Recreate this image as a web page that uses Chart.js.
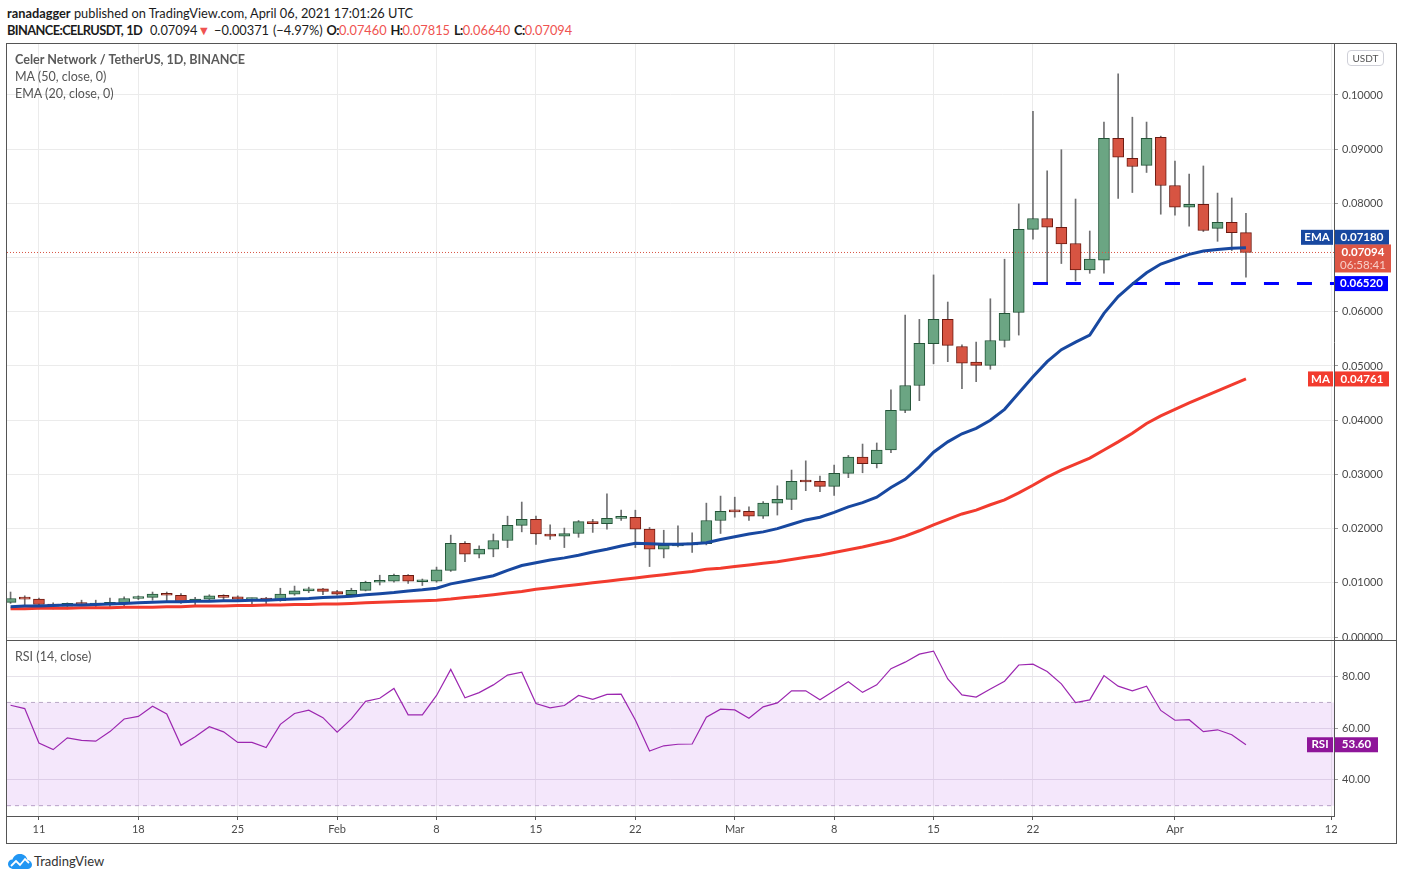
<!DOCTYPE html>
<html>
<head>
<meta charset="utf-8">
<title>CELRUSDT 1D</title>
<script src="https://cdn.jsdelivr.net/npm/chart.js@4.4.0/dist/chart.umd.min.js"></script>
<style>
  body { margin: 0; background: #fff; width: 1402px; height: 880px; overflow: hidden; position: relative;
         font-family: Lato, "Open Sans", sans-serif; }
  .hdr { position: absolute; left: 7px; font-size: 12.8px; color: #1b1b1b; white-space: nowrap; }
  .hdr .r { color: #ef5350; }
  .hdr.l2 b { letter-spacing: -0.6px; }
  .hdr.l2 { word-spacing: 0.6px; }
  #frame { position: absolute; left: 6px; top: 43px; width: 1389px; height: 799px; border: 1px solid #555; }
  #main { position: absolute; left: 0; top: 0; }
  #sep { position: absolute; left: 0; top: 596px; width: 1389px; height: 1px; background: #555; }
  #rsi { position: absolute; left: 0; top: 597px; }
  .leg { position: absolute; left: 15px; font-size: 12.5px; color: #555; white-space: nowrap; }
  #usdt { position: absolute; left: 1347px; top: 50px; width: 35px; height: 14px; border: 1px solid #cfd0d8;
          border-radius: 4px; font-size: 10px; color: #555; text-align: center; line-height: 14px; }
  #logo { position: absolute; left: 8px; top: 852px; }
  #brand { position: absolute; left: 34px; top: 853px; font-size: 13px; color: #333; }
</style>
</head>
<body>
<div class="hdr" style="top:5px"><b>ranadagger</b> published on TradingView.com, April 06, 2021 17:01:26 UTC</div>
<div class="hdr l2" style="top:22px"><b>BINANCE:CELRUSDT, 1D</b>&nbsp; 0.07094<span class="r">▼</span> −0.00371 (−4.97%) <b>O:</b><span class="r">0.07460</span> <b>H:</b><span class="r">0.07815</span> <b>L:</b><span class="r">0.06640</span> <b>C:</b><span class="r">0.07094</span></div>

<div id="frame">
  <canvas id="main" width="1389" height="596"></canvas>
  <div id="sep"></div>
  <canvas id="rsi" width="1389" height="202"></canvas>
</div>

<div class="leg" style="top:52px;font-size:12.6px;font-weight:700;color:#5a5a5a">Celer Network / TetherUS, 1D, BINANCE</div>
<div class="leg" style="top:69px">MA (50, close, 0)</div>
<div class="leg" style="top:86px">EMA (20, close, 0)</div>
<div class="leg" style="top:649px">RSI (14, close)</div>
<div id="usdt">USDT</div>

<svg id="logo" width="24" height="18" viewBox="0 0 24 18">
  <path d="M6 17 C2 17 0 14.5 0 12 C0 9.5 2 7.5 4.5 7.5 C5.5 4 8.5 2 12 2 C16 2 18.8 4.6 19.4 8 C22 8.3 24 10.3 24 12.7 C24 15.2 22 17 19.5 17 Z" fill="#2196f3"/>
  <polyline points="3,14 8,9 12,13 17,7 21,11" fill="none" stroke="#fff" stroke-width="1.8"/>
</svg>
<div id="brand">TradingView</div>

<script>
// daily candles, 2021-01-09 .. 2021-04-06 (index 0 = Jan 9)
const opens  = [0.0064,0.0072,0.0070,0.0060,0.0057,0.0062,0.0059,0.0060,0.0063,0.0071,
                0.0073,0.0080,0.0077,0.0066,0.0070,0.0076,0.0074,0.0069,0.0070,0.0067,
                0.0079,0.0085,0.0089,0.0084,0.0078,0.0086,0.0101,0.0103,0.0114,0.0102,
                0.0103,0.0123,0.0173,0.0153,0.0162,0.0178,0.0206,0.0217,0.0190,0.0186,
                0.0191,0.0213,0.0209,0.0219,0.0221,0.0199,0.0162,0.0168,0.0170,0.0172,
                0.0215,0.0233,0.0232,0.0223,0.0247,0.0254,0.0288,0.0287,0.0278,0.0302,
                0.0332,0.0320,0.0345,0.0418,0.0464,0.0541,0.0586,0.0536,0.0507,0.0501,
                0.0547,0.0599,0.0752,0.0772,0.0756,0.0726,0.0677,0.0695,0.0920,0.0883,
                0.0870,0.0922,0.0833,0.0793,0.0798,0.0754,0.0765,0.0746];
const highs  = [0.0083,0.0076,0.0072,0.0063,0.0063,0.0068,0.0068,0.0072,0.0074,0.0076,
                0.0083,0.0083,0.0080,0.0073,0.0078,0.0078,0.0076,0.0072,0.0073,0.0090,
                0.0094,0.0092,0.0090,0.0086,0.0090,0.0103,0.0114,0.0116,0.0115,0.0107,
                0.0129,0.0188,0.0176,0.0168,0.0190,0.0223,0.0249,0.0223,0.0207,0.0201,
                0.0215,0.0217,0.0264,0.0234,0.0234,0.0202,0.0197,0.0205,0.0192,0.0247,
                0.0260,0.0258,0.0240,0.0250,0.0279,0.0308,0.0325,0.0297,0.0317,0.0335,
                0.0356,0.0358,0.0456,0.0594,0.0586,0.0668,0.0618,0.0539,0.0544,0.0624,
                0.0697,0.0799,0.0970,0.0860,0.0899,0.0808,0.0749,0.0950,0.1039,0.0959,
                0.0950,0.0924,0.0878,0.0854,0.0869,0.0819,0.0810,0.07815];
const lows   = [0.0062,0.0059,0.0052,0.0052,0.0052,0.0058,0.0055,0.0056,0.0057,0.0069,
                0.0068,0.0067,0.0062,0.0058,0.0068,0.0068,0.0067,0.0061,0.0060,0.0066,
                0.0077,0.0082,0.0078,0.0077,0.0077,0.0085,0.0096,0.0101,0.0099,0.0095,
                0.0101,0.0121,0.0139,0.0146,0.0148,0.0165,0.0194,0.0171,0.0180,0.0165,
                0.0184,0.0193,0.0199,0.0215,0.0165,0.0130,0.0146,0.0166,0.0156,0.0170,
                0.0191,0.0221,0.0215,0.0219,0.0225,0.0235,0.0270,0.0268,0.0261,0.0294,
                0.0303,0.0312,0.0340,0.0414,0.0436,0.0504,0.0508,0.0458,0.0471,0.0494,
                0.0535,0.0557,0.0734,0.0651,0.0689,0.0657,0.0671,0.0671,0.0809,0.0820,
                0.0857,0.0780,0.0778,0.0758,0.0748,0.0730,0.0713,0.0664];
const closes = [0.0071,0.0070,0.0060,0.0057,0.0062,0.0060,0.0061,0.0064,0.0071,0.0073,
                0.0079,0.0077,0.0065,0.0070,0.0076,0.0073,0.0070,0.0070,0.0068,0.0079,
                0.0085,0.0089,0.0084,0.0079,0.0086,0.0101,0.0104,0.0114,0.0103,0.0104,
                0.0124,0.0173,0.0153,0.0162,0.0178,0.0206,0.0217,0.0190,0.0186,0.0191,
                0.0213,0.0209,0.0219,0.0221,0.0199,0.0162,0.0169,0.0170,0.0172,0.0215,
                0.0232,0.0231,0.0223,0.0247,0.0254,0.0287,0.0286,0.0278,0.0302,0.0332,
                0.0320,0.0345,0.0418,0.0464,0.0542,0.0586,0.0538,0.0505,0.0501,0.0547,
                0.0597,0.0752,0.0772,0.0756,0.0725,0.0677,0.0697,0.0920,0.0885,0.0868,
                0.0920,0.0833,0.0793,0.0798,0.0750,0.0765,0.0746,0.07094];

// indicator values
const ema20 = [0.0056,0.0057,0.0057,0.0058,0.0059,0.0059,0.0060,0.0061,0.0062,0.0063,
               0.0064,0.0065,0.0065,0.0066,0.0066,0.0067,0.0067,0.0068,0.0068,0.0069,
               0.0070,0.0071,0.0073,0.0074,0.0075,0.0078,0.0080,0.0082,0.0085,0.0087,
               0.0090,0.0098,0.0103,0.0108,0.0113,0.0123,0.0132,0.0137,0.0142,0.0146,
               0.0151,0.0157,0.0162,0.0168,0.0173,0.0172,0.0171,0.0171,0.0172,0.0174,
               0.0180,0.0185,0.0190,0.0194,0.0200,0.0208,0.0216,0.0221,0.0230,0.0240,
               0.0248,0.0258,0.0276,0.0291,0.0314,0.0341,0.0360,0.0375,0.0385,0.0400,
               0.0420,0.0450,0.0480,0.0508,0.0530,0.0544,0.0557,0.0597,0.0628,0.0651,
               0.0672,0.0688,0.0697,0.0706,0.0712,0.0715,0.0717,0.0718];
const ma50  = [0.0052,0.0052,0.0053,0.0053,0.0053,0.0054,0.0054,0.0054,0.0055,0.0055,
               0.0055,0.0056,0.0056,0.0057,0.0057,0.0057,0.0058,0.0058,0.0059,0.0059,
               0.0060,0.0060,0.0061,0.0061,0.0062,0.0063,0.0064,0.0065,0.0066,0.0067,
               0.0068,0.0070,0.0073,0.0075,0.0078,0.0081,0.0084,0.0088,0.0091,0.0094,
               0.0097,0.0100,0.0103,0.0106,0.0109,0.0112,0.0115,0.0118,0.0121,0.0125,
               0.0127,0.0130,0.0133,0.0136,0.0139,0.0143,0.0147,0.0151,0.0156,0.0161,
               0.0166,0.0172,0.0178,0.0186,0.0196,0.0207,0.0217,0.0227,0.0234,0.0244,
               0.0253,0.0266,0.0280,0.0295,0.0308,0.0319,0.0330,0.0345,0.0360,0.0376,
               0.0394,0.0408,0.0420,0.0432,0.0443,0.0454,0.0465,0.04761];
const rsi14 = [68.9,67.6,54.3,51.7,56.3,55.3,55.0,58.7,63.6,64.6,
               68.5,65.5,53.4,56.7,60.6,58.6,54.5,54.5,52.5,61.5,
               65.7,67.0,64.1,58.5,63.6,70.4,71.6,75.4,65.2,65.2,
               72.7,82.8,71.8,73.8,76.8,80.6,81.7,69.6,67.9,68.8,
               72.7,71.2,73.1,73.2,63.2,51.2,53.2,53.8,53.9,64.3,
               67.4,67.1,63.9,68.3,69.8,74.5,74.5,71.0,74.5,78.0,
               73.9,76.8,83.1,85.6,88.7,89.9,79.1,72.9,72.1,75.2,
               78.2,84.5,84.8,82.0,77.2,69.9,71.0,80.4,76.3,74.5,
               76.3,66.9,63.1,63.3,58.7,59.4,57.5,53.6];

const supportLevel = 0.0652;
const supportFrom = 72;           // Mar 22
const rsiBand = [70, 30];
const priceTicks = [0, 0.01, 0.02, 0.03, 0.04, 0.05, 0.06, 0.07, 0.08, 0.09, 0.10];
const rsiTicks = [40, 60, 80];
const dateTickIdx = [2, 9, 16, 23, 30, 37, 44, 51, 58, 65, 72, 82, 93];
const dateTickText = ['11', '18', '25', 'Feb', '8', '15', '22', 'Mar', '8', '15', '22', 'Apr', '12'];

const xMin = -0.25, xMax = 93.2;
const lastClose = closes[closes.length - 1];
const lastEma = ema20[ema20.length - 1];
const lastMa = ma50[ma50.length - 1];
const lastRsi = rsi14[rsi14.length - 1];

Chart.defaults.font.family = 'Lato, "Open Sans", sans-serif';
Chart.defaults.color = '#4a4a4a';

const up = closes.map((c, i) => c >= opens[i]);
const pts = arr => arr.map((v, i) => ({ x: i, y: v }));

// coloured labels sitting on the right price scale
function drawTag(ctx, x, y, w, h, bg, lines) {
  ctx.fillStyle = bg;
  ctx.fillRect(x, y, w, h);
  ctx.textAlign = 'center';
  ctx.textBaseline = 'middle';
  lines.forEach(l => {
    ctx.fillStyle = l.color || '#fff';
    ctx.font = (l.bold === false ? '' : 'bold ') + '11.5px Lato, "Open Sans", sans-serif';
    ctx.fillText(l.text, x + w / 2, y + l.dy);
  });
}

function axisTags(items) {
  return {
    id: 'axisTags',
    afterDraw(chart) {
      const ctx = chart.ctx, ys = chart.scales.y, ax = ys.left;
      ctx.save();
      items.forEach(t => {
        const py = ys.getPixelForValue(t.value) + (t.shift || 0);
        const h = t.sub ? 28 : 15;
        const top = t.sub ? py - 8 : py - 7.5;
        const lines = [{ text: t.value.toFixed(t.digits), dy: 7.5 }];
        if (t.sub) lines.push({ text: t.sub, dy: 21, bold: false, color: '#f8cfc8' });
        drawTag(ctx, ax + 1, top, t.w || 54, h, t.color, lines);
        if (t.name) drawTag(ctx, ax - t.nameW - 1, top, t.nameW, 15, t.color, [{ text: t.name, dy: 7.5 }]);
      });
      ctx.restore();
    }
  };
}

const xGrid = { color: '#ebebeb', offset: false };
const setDateTicks = s => { s.ticks = dateTickIdx.map(v => ({ value: v })); };

new Chart(document.getElementById('main'), {
  type: 'bar',
  data: {
    datasets: [
      { type: 'line', data: pts(ema20), borderColor: '#1848a0', borderWidth: 3, pointRadius: 0, order: 0 },
      { type: 'line', data: pts(ma50), borderColor: '#f23b2e', borderWidth: 3, pointRadius: 0, order: 0 },
      { type: 'line', data: [{ x: supportFrom, y: supportLevel }, { x: xMax, y: supportLevel }],
        borderColor: '#0000ff', borderWidth: 3, borderDash: [15, 18], pointRadius: 0, order: 1 },
      { type: 'line', data: [{ x: xMin, y: lastClose }, { x: xMax, y: lastClose }],
        borderColor: '#d75442', borderWidth: 1, borderDash: [1, 2], pointRadius: 0, order: 1 },
      { data: lows.map((l, i) => ({ x: i, y: [l, highs[i]] })), backgroundColor: '#6f6f71',
        barThickness: 1, grouped: false, order: 3 },
      { data: opens.map((o, i) => ({ x: i, y: [Math.min(o, closes[i]), Math.max(o, closes[i])] })),
        backgroundColor: up.map(u => u ? '#6ba583' : '#d75442'),
        borderColor: up.map(u => u ? '#225437' : '#6b1a11'),
        borderWidth: 1, borderSkipped: false, barThickness: 11, minBarLength: 2, grouped: false, order: 2 }
    ]
  },
  options: {
    responsive: false, animation: false, events: [],
    layout: { padding: 0 },
    plugins: { legend: { display: false }, tooltip: { enabled: false } },
    scales: {
      x: { type: 'linear', min: xMin, max: xMax, offset: false,
           grid: Object.assign({ drawTicks: false }, xGrid),
           ticks: { display: false }, border: { display: false },
           afterBuildTicks: setDateTicks, afterFit: s => { s.height = 0; } },
      y: { position: 'right', min: -0.00055, max: 0.1094,
           grid: { color: '#ebebeb', tickLength: 4, tickColor: '#9a9a9a' },
           border: { color: '#555' },
           ticks: { padding: 4, font: { size: 11 }, callback: v => v.toFixed(5) },
           afterBuildTicks: s => { s.ticks = priceTicks.map(v => ({ value: v })); },
           afterFit: s => { s.width = 62; s.paddingTop = 0; s.paddingBottom = 0; } }
    }
  },
  plugins: [axisTags([
    { value: lastEma, digits: 5, color: '#1848a0', name: 'EMA', nameW: 32, shift: -10.5 },
    { value: lastClose, digits: 5, color: '#dd5645', sub: '06:58:41', w: 56 },
    { value: supportLevel, digits: 5, color: '#0000ff', w: 53 },
    { value: lastMa, digits: 5, color: '#f23b2e', name: 'MA', nameW: 25 }
  ])]
});

new Chart(document.getElementById('rsi'), {
  type: 'line',
  data: {
    datasets: [
      { data: [{ x: xMin, y: rsiBand[0] }, { x: xMax, y: rsiBand[0] }], borderColor: '#b9a8c6',
        borderWidth: 1, borderDash: [4, 4], pointRadius: 0, fill: '+1',
        backgroundColor: 'rgba(156, 39, 216, 0.11)', order: 2 },
      { data: [{ x: xMin, y: rsiBand[1] }, { x: xMax, y: rsiBand[1] }], borderColor: '#b9a8c6',
        borderWidth: 1, borderDash: [4, 4], pointRadius: 0, fill: false, order: 2 },
      { data: pts(rsi14), borderColor: '#9c27b0', borderWidth: 1.2, pointRadius: 0, order: 1 }
    ]
  },
  options: {
    responsive: false, animation: false, events: [],
    layout: { padding: 0 },
    plugins: { legend: { display: false }, tooltip: { enabled: false } },
    scales: {
      x: { type: 'linear', min: xMin, max: xMax, offset: false,
           grid: Object.assign({ tickLength: 4, tickColor: '#555' }, xGrid),
           border: { color: '#555' },
           ticks: { padding: 3, font: { size: 11 }, maxRotation: 0, autoSkip: false,
                    callback: v => dateTickText[dateTickIdx.indexOf(v)] },
           afterBuildTicks: setDateTicks, afterFit: s => { s.height = 27; } },
      y: { position: 'right', min: 26.0, max: 93.8,
           grid: { color: '#e6e2ea', tickLength: 4, tickColor: '#9a9a9a' },
           border: { color: '#555' },
           ticks: { padding: 4, font: { size: 11 }, callback: v => v.toFixed(2) },
           afterBuildTicks: s => { s.ticks = rsiTicks.map(v => ({ value: v })); },
           afterFit: s => { s.width = 62; s.paddingTop = 0; s.paddingBottom = 0; } }
    }
  },
  plugins: [axisTags([
    { value: lastRsi, digits: 2, color: '#8e1599', name: 'RSI', nameW: 26, w: 43 }
  ])]
});
</script>
</body>
</html>
